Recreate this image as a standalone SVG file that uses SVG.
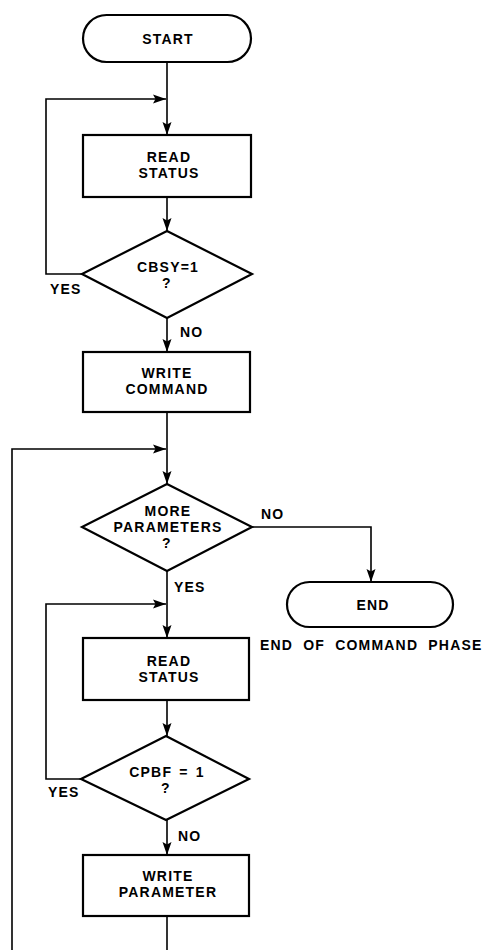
<svg xmlns="http://www.w3.org/2000/svg" width="484" height="950" viewBox="0 0 484 950">
<style>
.shape{fill:#fff;stroke:#000;stroke-width:2.2}
.conn{fill:none;stroke:#000;stroke-width:1.6}
text{font-family:"Liberation Sans",Arial,sans-serif;font-weight:bold;font-size:14px;fill:#000;letter-spacing:1.2px}
.c{text-anchor:middle}
</style>
<defs>
<marker id="arr" markerUnits="userSpaceOnUse" markerWidth="14" markerHeight="10" refX="13" refY="5" orient="auto">
<path d="M0,0.5 L13,5 L0,9.5 L2.5,5 z" fill="#000"/>
</marker>
</defs>
<rect width="484" height="950" fill="#fff"/>
<g id="connectors">
<path class="conn" d="M167,62 V135" marker-end="url(#arr)"/>
<path class="conn" d="M82,274 H46 V99 H166" marker-end="url(#arr)"/>
<path class="conn" d="M167,197 V231" marker-end="url(#arr)"/>
<path class="conn" d="M167,318 V352" marker-end="url(#arr)"/>
<path class="conn" d="M167,412 V484" marker-end="url(#arr)"/>
<path class="conn" d="M12,950 V449 H166" marker-end="url(#arr)"/>
<path class="conn" d="M252,527 H371 V582" marker-end="url(#arr)"/>
<path class="conn" d="M167,571 V638" marker-end="url(#arr)"/>
<path class="conn" d="M81,779 H46 V604 H166" marker-end="url(#arr)"/>
<path class="conn" d="M167,700 V736" marker-end="url(#arr)"/>
<path class="conn" d="M167,820 V855" marker-end="url(#arr)"/>
<path class="conn" d="M167,916 V950"/>
<text x="50" y="294">YES</text>
<text x="180" y="337">NO</text>
<text x="261" y="519">NO</text>
<text x="174" y="592">YES</text>
<text x="48" y="797">YES</text>
<text x="178" y="841">NO</text>
</g>
<g id="start">
<rect class="shape" x="83" y="15" width="168" height="47" rx="23.5"/>
<text class="c" x="168" y="44">START</text>
</g>
<g id="read_status_1">
<rect class="shape" x="83" y="135" width="168" height="62"/>
<text class="c" x="169" y="162">READ</text>
<text class="c" x="169" y="178">STATUS</text>
</g>
<g id="cbsy">
<polygon class="shape" points="167,231 252,274 167,318 82,274"/>
<text class="c" x="168" y="272">CBSY=1</text>
<text class="c" x="167" y="288">?</text>
</g>
<g id="write_command">
<rect class="shape" x="83" y="352" width="167" height="60"/>
<text class="c" x="167" y="378">WRITE</text>
<text class="c" x="167" y="394">COMMAND</text>
</g>
<g id="more_parameters">
<polygon class="shape" points="167,484 252,527 167,571 82,527"/>
<text class="c" x="168" y="516">MORE</text>
<text class="c" x="168" y="532">PARAMETERS</text>
<text class="c" x="167" y="548">?</text>
</g>
<g id="end">
<rect class="shape" x="287" y="582" width="166" height="45" rx="22.5"/>
<text class="c" x="373" y="610">END</text>
<text x="260" y="650" style="word-spacing:5px">END OF COMMAND PHASE</text>
</g>
<g id="read_status_2">
<rect class="shape" x="83" y="638" width="166" height="62"/>
<text class="c" x="169" y="666">READ</text>
<text class="c" x="169" y="682">STATUS</text>
</g>
<g id="cpbf">
<polygon class="shape" points="166,736 249,779 166,820 81,779"/>
<text class="c" x="167" y="777" style="word-spacing:2px">CPBF = 1</text>
<text class="c" x="166" y="793">?</text>
</g>
<g id="write_parameter">
<rect class="shape" x="83" y="855" width="166" height="61"/>
<text class="c" x="168" y="881">WRITE</text>
<text class="c" x="168" y="897">PARAMETER</text>
</g>
</svg>
